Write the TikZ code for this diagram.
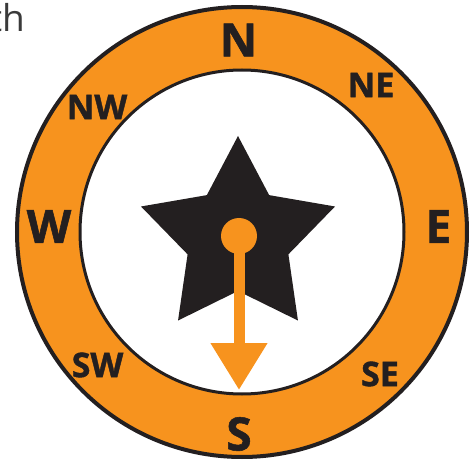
\documentclass[tikz,border=0pt]{standalone}
\usepackage{fontspec}
\setmainfont{Open Sans}
\newfontfamily\dirfont{Open Sans}[BoldFeatures={FakeBold=1.2}]
\usetikzlibrary{arrows.meta, calc}

\definecolor{compassorange}{RGB}{247,147,30}
\definecolor{inkblack}{RGB}{35,31,32}
\definecolor{textgray}{RGB}{58,58,58}

\begin{document}
\begin{tikzpicture}[x=1pt, y=1pt,
    % Styles
    bigdir/.style={
        font=\fontsize{46}{46}\selectfont\dirfont\bfseries,
        text=inkblack, inner sep=0pt
    },
    smalldir/.style={
        font=\fontsize{34}{34}\selectfont\dirfont\bfseries,
        text=inkblack, inner sep=0pt
    },
    ringline/.style={
        draw=inkblack, line width=4pt
    },
    needle/.style={
        -{Triangle[width=54pt, length=47pt]},
        line width=11pt, color=compassorange
    },
]
\useasboundingbox (0,0) rectangle (475,459);
\clip (0,0) rectangle (475,459);

% Word cut off at the edge
\node[font=\fontsize{37}{37}\selectfont, text=textgray, anchor=base east, inner sep=0pt]
    (wordend) at (25,427) {th};

% Orange ring
\coordinate (ringc) at (242,227);
\fill[compassorange, even odd rule] (ringc) circle (225) (ringc) circle (162);
\draw[ringline] (ringc) circle (225);
\draw[ringline, line width=3pt] (ringc) circle (162);

% Star
\coordinate (starc) at (238,221);
\fill[inkblack] ($(starc)+(90:102)$)
    \foreach \a/\r in {126/53, 162/102, 198/53, 234/102, 270/53, 306/102, 342/53, 18/102, 54/53} {
        -- ($(starc)+(\a:\r)$)
    } -- cycle;

% Needle
\node[circle, fill=compassorange, minimum size=36pt, inner sep=0pt] (hubdot) at (239,223) {};
\coordinate (needletip) at (239,69);
\draw[needle] (hubdot.center) -- (needletip);

% Direction labels
\node[bigdir] (n) at (238.5,419) {N};
\node[bigdir] (s) at (239,25) {S};
\node[bigdir] (w) at (49,232.5) {W};
\node[bigdir] (e) at (438.5,232.5) {E};
\node[smalldir] (ne) at (371,374) {NE};
\node[smalldir] (nw) at (97,352) {NW};
\node[smalldir] (sw) at (97.5,94) {SW};
\node[smalldir] (se) at (380,85) {SE};

\end{tikzpicture}
\end{document}
